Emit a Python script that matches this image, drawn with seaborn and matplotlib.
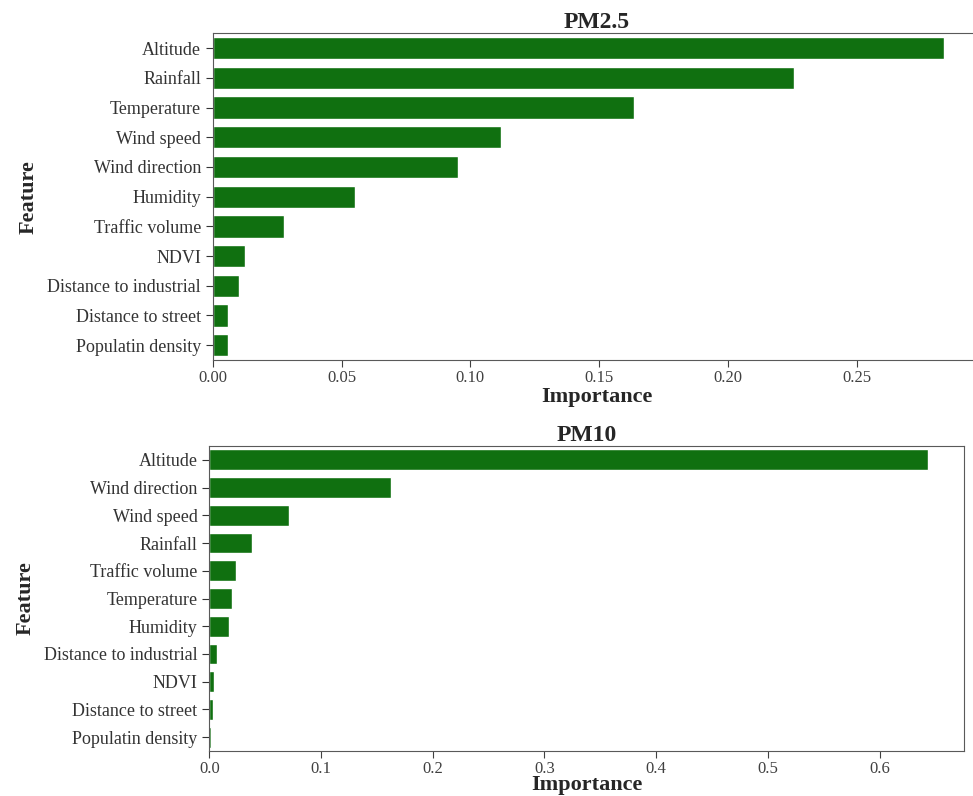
import matplotlib
matplotlib.use("Agg")
import matplotlib.pyplot as plt
import seaborn as sns
import pandas as pd

# Feature importances for the two pollutant models
features_pm25 = ["Altitude", "Rainfall", "Temperature", "Wind speed", "Wind direction",
                 "Humidity", "Traffic volume", "NDVI", "Distance to industrial",
                 "Distance to street", "Populatin density"]
importance_pm25 = [0.2838, 0.2258, 0.1637, 0.1119, 0.0954, 0.0551, 0.0277,
                   0.0124, 0.0102, 0.0060, 0.0058]

features_pm10 = ["Altitude", "Wind direction", "Wind speed", "Rainfall", "Traffic volume",
                 "Temperature", "Humidity", "Distance to industrial", "NDVI",
                 "Distance to street", "Populatin density"]
importance_pm10 = [0.6434, 0.1622, 0.0717, 0.0383, 0.0242, 0.0200, 0.0179,
                   0.0072, 0.0039, 0.0036, 0.0018]

sns.set_style("ticks")
plt.rcParams["font.family"] = ["Liberation Serif", "DejaVu Serif"]

fig = plt.figure(figsize=(9.73, 7.96), dpi=100)
ax_top = fig.add_axes([0.2186, 0.5477, 0.789, 0.4104])
ax_bot = fig.add_axes([0.2151, 0.0565, 0.7757, 0.3832])

panels = [
    (ax_top, "PM2.5", features_pm25, importance_pm25, -0.113),
    (ax_bot, "PM10", features_pm10, importance_pm10, -0.112),
]

for ax, title, feats, vals, xlab_y in panels:
    df = pd.DataFrame({"Feature": feats, "Importance": vals})
    sns.barplot(data=df, x="Importance", y="Feature", color="green", ax=ax, width=0.75)
    ax.set_title(title, fontsize=17, fontweight="bold", pad=3)
    ax.set_xlabel("Importance", fontsize=16, fontweight="bold")
    ax.xaxis.label.set_va("center")
    ax.xaxis.set_label_coords(0.5, xlab_y)
    ax.set_ylabel("Feature", fontsize=16, fontweight="bold", labelpad=6)
    ax.tick_params(axis="y", labelsize=13, colors=".2", length=5)
    ax.tick_params(axis="x", labelsize=12, colors=".25", length=5, pad=2)
    for s in ax.spines.values():
        s.set_color(".35")

ax_top.xaxis.set_major_formatter(matplotlib.ticker.FormatStrFormatter("%.2f"))
ax_bot.xaxis.set_major_formatter(matplotlib.ticker.FormatStrFormatter("%.1f"))

fig.savefig("out.png", dpi=100)
